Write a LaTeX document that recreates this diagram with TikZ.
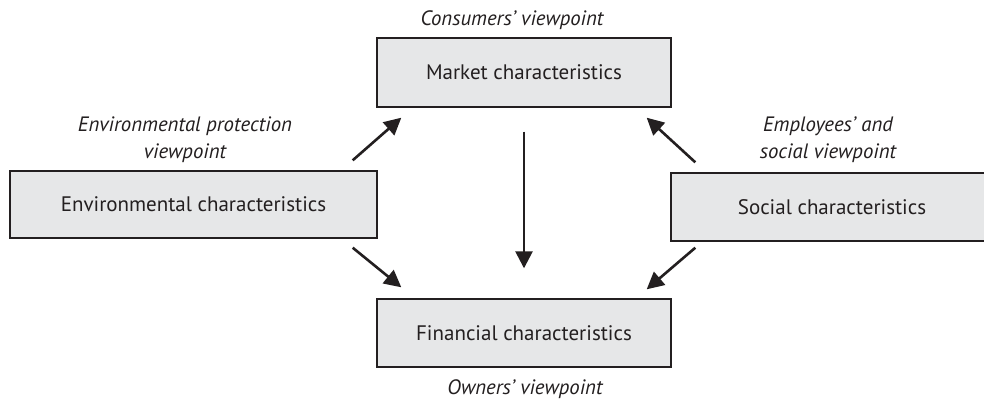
\documentclass[tikz,border=0pt]{standalone}
\usepackage{fontspec}
\setmainfont{PT Sans}
\usetikzlibrary{arrows.meta,calc}
\definecolor{boxfill}{RGB}{230,231,232}
\definecolor{ink}{RGB}{35,31,32}
\tikzset{
  charbox/.style={draw=ink, line width=1.4pt, fill=boxfill, text=ink, font=\fontsize{21}{25}\selectfont, inner sep=0pt},
  viewlbl/.style={text=ink, font=\fontsize{20.8}{27}\selectfont\itshape, align=center, inner sep=0pt},
  arr/.style={draw=ink, line width=2.6pt, -{Triangle[length=17pt,width=17pt]}}
}
\begin{document}
\begin{tikzpicture}[x=1pt,y=-1pt]
\path[use as bounding box, fill=white] (0,0) rectangle (984,400);
\begin{scope}
\clip (0,0) rectangle (984,400);
\node[charbox, minimum width=294pt, minimum height=69pt] (market) at (524,72.5) {Market characteristics};
\node[charbox, minimum width=367pt, minimum height=67pt] (env) at (193.5,204.5) {Environmental characteristics};
\node[charbox, minimum width=322pt, minimum height=68pt] (social) at (832,207) {Social characteristics};
\node[charbox, minimum width=294pt, minimum height=68pt] (fin) at (524,333) {Financial characteristics};
\end{scope}
\node[viewlbl] (lcons) at (512,20) {Consumers' viewpoint};
\node[viewlbl] (lown) at (525,389) {Owners' viewpoint};
\node[viewlbl] (lenv) at (185,140) {Environmental protection\\viewpoint};
\node[viewlbl] (lsoc) at (828,140) {Employees' and\\social viewpoint};
\draw[arr] ($(env.north east)+(-25,-10)$) -- ($(market.south west)+(25,10)$);
\draw[arr] ($(env.south east)+(-25,9)$) -- ($(fin.north west)+(25,-11)$);
\draw[arr] ($(market.south)+(0,24)$) -- ($(fin.north)+(0,-30)$);
\draw[arr] ($(social.north west)+(25,-10)$) -- ($(market.south east)+(-25,10)$);
\draw[arr] ($(social.south west)+(25,6)$) -- ($(fin.north east)+(-25,-9)$);
\end{tikzpicture}
\end{document}
